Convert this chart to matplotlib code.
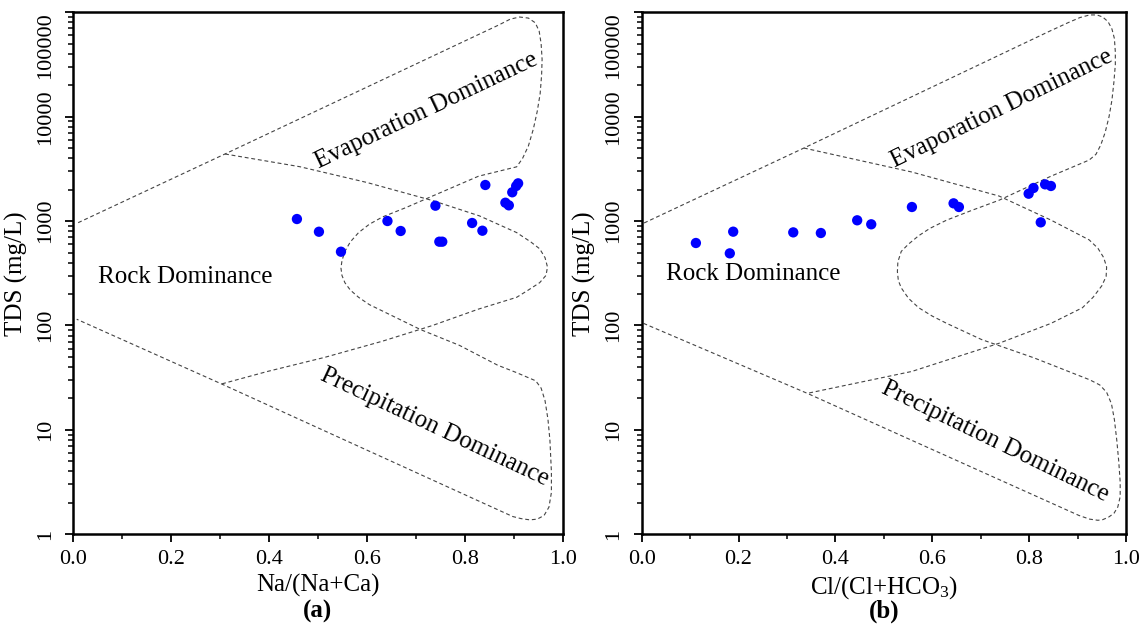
import matplotlib
matplotlib.use("Agg")
import matplotlib.pyplot as plt
import numpy as np
from matplotlib.ticker import LogLocator, MultipleLocator, NullFormatter

plt.rcParams['font.family'] = ['Liberation Serif', 'DejaVu Serif']
plt.rcParams['mathtext.fontset'] = 'custom'
plt.rcParams['mathtext.rm'] = 'Liberation Serif'
plt.rcParams['mathtext.it'] = 'Liberation Serif:italic'

# ---------------- sample data ----------------
na_ratio = [0.457, 0.502, 0.547, 0.642, 0.669, 0.740, 0.748, 0.754,
            0.815, 0.836, 0.842, 0.883, 0.890, 0.897, 0.905, 0.909]
tds_a = [1047, 791, 509, 1002, 804, 1405, 635, 635,
         959, 809, 2218, 1500, 1416, 1888, 2168, 2300]

cl_ratio = [0.112, 0.182, 0.189, 0.313, 0.370, 0.445, 0.474, 0.558,
            0.644, 0.655, 0.799, 0.809, 0.824, 0.833, 0.845]
tds_b = [617, 491, 792, 780, 769, 1018, 932, 1365,
         1480, 1365, 1830, 2076, 973, 2250, 2170]

# ---------------- Gibbs boundaries (x, log10 TDS) ----------------
outer_a_x = [0.010, 0.310, 0.870, 0.893, 0.912, 0.930, 0.944, 0.952, 0.956, 0.958,
             0.957, 0.954, 0.948, 0.940, 0.930, 0.918, 0.906,
             0.828, 0.734, 0.680, 0.632, 0.605, 0.583, 0.566, 0.555, 0.549, 0.547,
             0.549, 0.555, 0.566, 0.583, 0.605, 0.640, 0.710, 0.789, 0.867, 0.905,
             0.930, 0.945, 0.956, 0.964, 0.970, 0.974, 0.977, 0.977, 0.972, 0.962,
             0.948, 0.933, 0.915, 0.898, 0.303, 0.007]
outer_a_logy = [2.985, 3.643, 4.880, 4.935, 4.955, 4.945, 4.900, 4.820, 4.700, 4.550,
                4.400, 4.220, 4.050, 3.880, 3.720, 3.600, 3.520,
                3.430, 3.240, 3.130, 3.040, 2.970, 2.890, 2.800, 2.710, 2.620, 2.550,
                2.480, 2.410, 2.340, 2.270, 2.200, 2.120, 1.960, 1.810, 1.620, 1.550,
                1.500, 1.470, 1.400, 1.280, 1.100, 0.900, 0.600, 0.400, 0.260, 0.180,
                0.145, 0.138, 0.150, 0.170, 1.440, 2.060]
inner_a_x = [0.310, 0.463, 0.600, 0.734, 0.830, 0.906, 0.935, 0.953, 0.964, 0.969,
             0.966, 0.953, 0.930, 0.906, 0.828, 0.734, 0.632, 0.514, 0.397, 0.303]
inner_a_logy = [3.643, 3.521, 3.370, 3.197, 3.050, 2.890, 2.800, 2.735, 2.650, 2.560,
                2.480, 2.410, 2.340, 2.270, 2.157, 2.000, 1.850, 1.695, 1.560, 1.440]

outer_b_x = [0.005, 0.335, 0.838, 0.880, 0.905, 0.925, 0.940, 0.952, 0.963, 0.971,
             0.976, 0.978, 0.978, 0.975, 0.971, 0.965, 0.957, 0.948, 0.938, 0.924,
             0.845, 0.738, 0.680, 0.630, 0.595, 0.572, 0.551, 0.536, 0.529, 0.528,
             0.530, 0.536, 0.551, 0.572, 0.600, 0.630, 0.702, 0.810, 0.903, 0.925,
             0.946, 0.960, 0.970, 0.976, 0.981, 0.985, 0.988, 0.988, 0.983, 0.975,
             0.964, 0.952, 0.942, 0.925, 0.903, 0.342, 0.004]
outer_b_logy = [2.982, 3.700, 4.810, 4.900, 4.950, 4.975, 4.975, 4.955, 4.910, 4.840,
                4.750, 4.620, 4.500, 4.330, 4.160, 4.000, 3.850, 3.730, 3.640, 3.585,
                3.430, 3.200, 3.100, 3.010, 2.930, 2.860, 2.780, 2.710, 2.610, 2.515,
                2.430, 2.360, 2.260, 2.170, 2.090, 2.020, 1.865, 1.690, 1.520, 1.480,
                1.430, 1.360, 1.250, 1.100, 0.900, 0.700, 0.500, 0.360, 0.260, 0.200,
                0.164, 0.140, 0.134, 0.145, 0.180, 1.350, 2.020]
inner_b_x = [0.335, 0.558, 0.738, 0.845, 0.924, 0.942, 0.954, 0.960, 0.959, 0.950,
             0.932, 0.910, 0.845, 0.738, 0.558, 0.342]
inner_b_logy = [3.700, 3.470, 3.240, 3.010, 2.820, 2.740, 2.650, 2.560, 2.470, 2.380,
                2.270, 2.170, 2.020, 1.830, 1.560, 1.350]

ytick_vals = [1, 10, 100, 1000, 10000, 100000]
ytick_labels = ['1', '10', '100', '1000', '10000', '100000']
xtick_vals = [0.0, 0.2, 0.4, 0.6, 0.8, 1.0]
xtick_labels = ['0.0', '0.2', '0.4', '0.6', '0.8', '1.0']

fig = plt.figure(figsize=(11.45, 6.29), dpi=100)
ax1 = fig.add_axes([0.064, 0.1506, 0.4274, 0.8298])
ax2 = fig.add_axes([0.5604, 0.1506, 0.4230, 0.8298])

line_kw = dict(color='#444444', lw=0.8, linestyle=(0, (3.5, 2.5)))


def style(ax, xlabel, letter):
    ax.set_yscale('log')
    ax.set_xlim(0, 1)
    ax.set_ylim(1, 100000)
    ax.set_xticks(xtick_vals, labels=xtick_labels)
    ax.xaxis.set_minor_locator(MultipleLocator(0.1))
    ax.set_yticks(ytick_vals, labels=ytick_labels)
    ax.yaxis.set_minor_locator(LogLocator(base=10, subs=np.arange(2, 10)))
    ax.yaxis.set_minor_formatter(NullFormatter())
    ax.tick_params(which='major', direction='out', length=6, width=1.3,
                   labelsize=16, pad=5)
    ax.tick_params(which='minor', direction='out', length=3.5, width=1.1)
    ax.tick_params(axis='y', which='major', pad=7)
    for i, t in enumerate(ax.get_yticklabels()):
        t.set_rotation(90)
        t.set_va('top' if i == len(ytick_vals) - 1 else 'center')
    for s in ax.spines.values():
        s.set_linewidth(1.8)
    ax.set_xlabel(xlabel, fontsize=18, labelpad=4)
    ax.set_ylabel('TDS (mg/L)', fontsize=18, labelpad=6)
    ax.text(0.5, -0.148, letter, transform=ax.transAxes, ha='center', va='center',
            fontsize=18, fontweight='bold')


def boundary(ax, xs, logys):
    ax.plot(xs, np.power(10.0, logys), **line_kw)


# panel (a)
boundary(ax1, outer_a_x, outer_a_logy)
boundary(ax1, inner_a_x, inner_a_logy)
ax1.scatter(na_ratio, tds_a, s=55, color='#0000ff', edgecolors='none', zorder=3)
ax1.text(0.05, 290, 'Rock Dominance', fontsize=18, ha='left', va='center')
ax1.text(0.722, 11500, 'Evaporation Dominance', fontsize=18, ha='center', va='center',
         rotation=25.4, rotation_mode='anchor')
ax1.text(0.738, 10.5, 'Precipitation Dominance', fontsize=18, ha='center', va='center',
         rotation=-25.2, rotation_mode='anchor')
style(ax1, 'Na/(Na+Ca)', '(a)')

# panel (b)
boundary(ax2, outer_b_x, outer_b_logy)
boundary(ax2, inner_b_x, inner_b_logy)
ax2.scatter(cl_ratio, tds_b, s=55, color='#0000ff', edgecolors='none', zorder=3)
ax2.text(0.05, 310, 'Rock Dominance', fontsize=18, ha='left', va='center')
ax2.text(0.743, 11900, 'Evaporation Dominance', fontsize=18, ha='center', va='center',
         rotation=26.0, rotation_mode='anchor')
ax2.text(0.730, 7.8, 'Precipitation Dominance', fontsize=18, ha='center', va='center',
         rotation=-25.9, rotation_mode='anchor')
style(ax2, 'Cl/(Cl+HCO$_3$)', '(b)')

fig.savefig('out.png', dpi=100)
